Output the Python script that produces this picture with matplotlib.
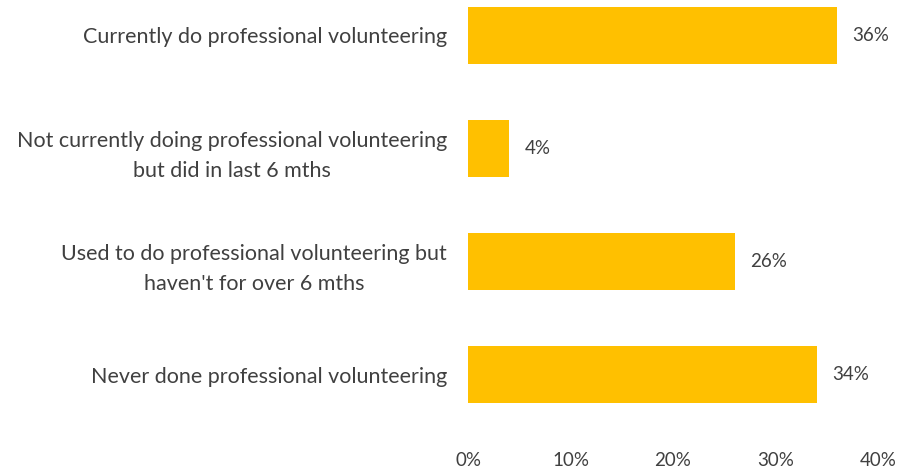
import matplotlib
matplotlib.use("Agg")
import matplotlib.pyplot as plt
from matplotlib.ticker import FuncFormatter

plt.rcParams["font.family"] = ["Lato", "DejaVu Sans"]

categories = [
    "Currently do professional volunteering",
    "Not currently doing professional volunteering\nbut did in last 6 mths",
    "Used to do professional volunteering but\nhaven't for over 6 mths",
    "Never done professional volunteering",
]
shares = [36, 4, 26, 34]
ticks = [0, 10, 20, 30, 40]

text_col = "#404040"
bar_col = "#FFC000"

fig = plt.figure(figsize=(9, 4.7), dpi=100)
ax = fig.add_axes([468 / 900, 40 / 470, 410 / 900, 430 / 470])

pos = list(range(len(categories)))
bars = ax.barh(pos, shares, height=0.5, color=bar_col)
ax.set_ylim(3.49, -0.314)
ax.set_xlim(0, 40)

ax.set_yticks(pos)
ax.set_yticklabels(categories, fontsize=15.5, color=text_col, ha="right",
                   multialignment="center", linespacing=1.65)
ax.set_xticks(ticks)
ax.xaxis.set_major_formatter(FuncFormatter(lambda v, p: f"{v:.0f}%"))
ax.tick_params(axis="x", labelsize=13.5, labelcolor=text_col, length=0, pad=16)
ax.tick_params(axis="y", length=0, pad=15)

for s in ax.spines.values():
    s.set_visible(False)

ax.bar_label(bars, labels=[f"{v}%" for v in shares], padding=11,
             fontsize=13.5, color=text_col)

fig.savefig("out.png", dpi=100)
